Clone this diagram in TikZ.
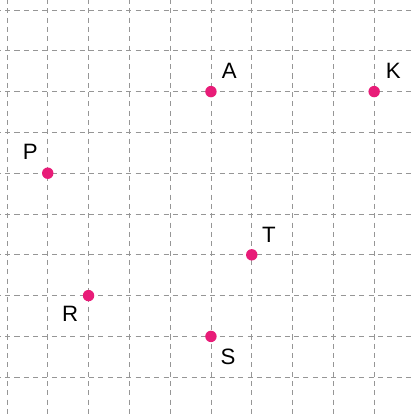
\documentclass[tikz,border=0pt]{standalone}
\usepackage{fontspec}
\setmainfont{Liberation Sans}
\definecolor{dotpink}{RGB}{232,28,120}
\definecolor{gridgray}{RGB}{150,150,150}
\tikzset{
  gridline/.style={draw=gridgray, line width=0.5pt, dash pattern=on 3.5pt off 3pt},
  pt/.style={circle, fill=dotpink, inner sep=0pt, minimum size=0.28cm},
  lbl/.style={font=\fontsize{15.5}{17}\selectfont, text=black, inner sep=0pt}
}
\begin{document}
\begin{tikzpicture}[x=1cm, y=1cm]
				% 1. 画布范围
				\clip (-0.17, 0.245) rectangle (9.975, -9.975);
				
				% 2. 方格虚线
				\foreach \x in {0,...,9}
					\draw[gridline] (\x, 0.5) -- (\x, -10.5);
				\foreach \y in {0,...,10}
					\draw[gridline] (-0.5, -\y) -- (10.5, -\y);
				
				% 3. 各点
				\node[pt] (A) at (5, -2) {};
				\node[pt] (K) at (9, -2) {};
				\node[pt] (P) at (1, -4) {};
				\node[pt] (T) at (6, -6) {};
				\node[pt] (R) at (2, -7) {};
				\node[pt] (S) at (5, -8) {};
				
				% 4. 字母标注
				\node[lbl] (lA) at (5.45, -1.48) {A};
				\node[lbl] (lK) at (9.47, -1.48) {K};
				\node[lbl] (lP) at (0.57, -3.48) {P};
				\node[lbl] (lT) at (6.42, -5.5) {T};
				\node[lbl] (lR) at (1.55, -7.45) {R};
				\node[lbl] (lS) at (5.42, -8.5) {S};
			\end{tikzpicture}
\end{document}
